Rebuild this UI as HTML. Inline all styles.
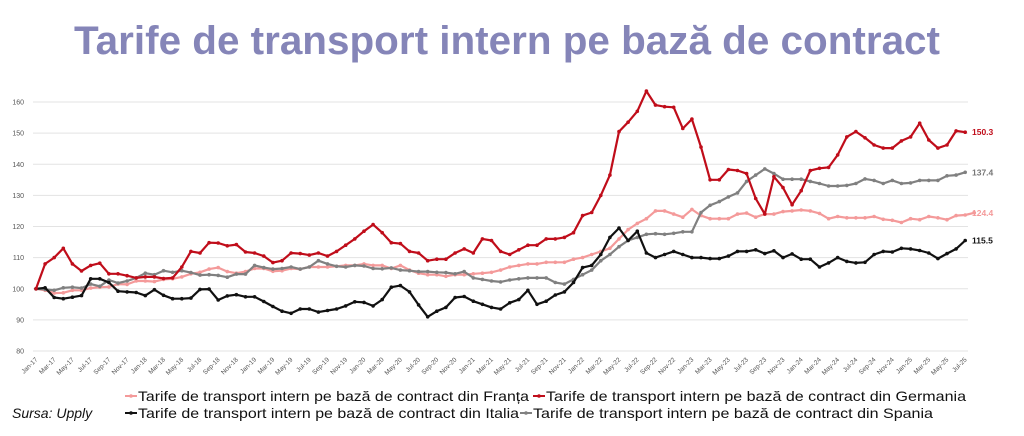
<!DOCTYPE html>
<html><head><meta charset="utf-8"><style>
html,body{margin:0;padding:0;background:#fff;}
svg{display:block;font-family:"Liberation Sans",sans-serif;}
</style></head><body>
<svg id="s" width="1024" height="436" viewBox="0 0 1024 436"></svg>
<script>
const s=document.getElementById('s');
let h='';
h+=`<text x="507" y="54" text-anchor="middle" font-size="40" font-weight="bold" fill="#8585b8" textLength="866" lengthAdjust="spacingAndGlyphs">Tarife de transport intern pe bază de contract</text>`;
const Y=v=>351-(v-80)*3.1125, X=i=>36+9.11*i;
for(let v=80;v<=160;v+=10){h+=`<line x1="33" x2="968" y1="${Y(v)}" y2="${Y(v)}" stroke="#e3e3e3" stroke-width="1"/>`;
h+=`<text x="24" y="${Y(v)+2.5}" text-anchor="end" font-size="7" fill="#555">${v}</text>`;}
const mn=['Jan','Mar','May','Jul','Sep','Nov'];
for(let i=0;i<=102;i+=2){const yr=17+Math.floor(i/12);const m=mn[(i%12)/2];
h+=`<text transform="translate(${X(i)+2},360) rotate(-45)" text-anchor="end" font-size="6.5" fill="#555">${m}-${yr}</text>`;}
const fr=[100,99.5,98.6,98.7,99.5,99.5,100.2,100.5,100.6,101.5,101.4,102.5,102.5,102.3,103,103.2,103.8,104.8,105.3,106.3,106.8,105.5,105,105.5,106.5,106.5,105.6,105.8,106.5,106.3,107,107,107,107.2,107.5,107.5,108,107.5,107.5,106.5,107.5,106,105,104.5,104.5,104,104.5,104.5,104.8,105,105.3,106,107,107.5,108,108,108.5,108.5,108.5,109.5,110,111,112,113,116,119,121,122.5,125,125,124,123,125.5,123.5,122.5,122.5,122.5,124,124.3,123,124,124,124.8,125,125.3,125,124.2,122.5,123.2,122.8,122.8,122.8,123.2,122.3,122,121.3,122.5,122.2,123.2,122.8,122.2,123.5,123.7,124.4];
const de=[100,108,110,113,108,105.7,107.5,108.2,104.8,104.8,104.2,103.5,103.8,103.8,103.3,103.5,107,112,111.5,114.8,114.7,113.8,114.2,111.8,111.5,110.5,108.4,109,111.5,111.3,110.8,111.5,110.5,112,114,116,118.5,120.6,118,114.8,114.5,112,111.5,109,109.5,109.5,111.5,112.8,111.5,116,115.5,112,111,112.5,114,114,116,116,116.5,118,123.5,124.5,130,136.5,150.5,153.5,157,163.5,159,158.5,158.3,151.5,154.5,145.5,135,135,138.3,138,137,129,124,136,132.5,127,131.5,138,138.7,139,143,148.8,150.5,148.5,146.2,145.2,145.2,147.5,148.8,153.2,147.8,145.2,146.2,150.7,150.3];
const it=[100,100.3,97.2,96.8,97.3,97.8,103.2,103.2,102,99.2,99,98.8,97.8,99.7,97.9,96.8,96.8,97,99.8,99.9,96.4,97.7,98.1,97.4,97.4,95.9,94.3,92.8,92.1,93.5,93.5,92.5,93,93.5,94.5,95.8,95.6,94.5,96.5,100.5,101,99,94.8,91,92.8,94,97.2,97.5,96,95,94,93.5,95.5,96.5,99.5,95,96,98,99,102,106.8,107.5,111,116.5,119.5,115.5,118.5,111.5,110,111,112,111,110,110,109.7,109.7,110.5,112,112,112.5,111.3,112.2,110,111.2,109.5,109.5,107,108.3,110,108.8,108.3,108.5,111,112,111.8,113,112.8,112.3,111.5,109.7,111.3,112.8,115.5];
const es=[100,99.8,99.5,100.3,100.5,100.2,101.5,100.8,102.8,101.8,102.5,103.5,105,104.5,105.8,105.3,105.8,105.2,104.4,104.5,104.3,103.7,104.7,104.7,107.5,106.8,106.3,106.5,107,106.3,107,109,108,107.2,107,107.5,107.3,106.5,106.4,106.7,106,105.8,105.5,105.5,105.3,105.2,104.8,105.5,103.5,103,102.5,102.2,102.8,103.2,103.5,103.5,103.5,102,101.5,103,104.5,106,109,111,113.5,115.5,116.5,117.5,117.7,117.5,117.8,118.3,118.3,124.5,126.8,128,129.5,130.8,134.5,136.5,138.5,137,135.2,135.2,135.2,134.5,133.8,133,133,133.2,133.8,135.3,134.8,133.8,134.8,133.8,134,134.8,134.8,134.8,136.3,136.5,137.4];
function ser(d,c,w){let p=d.map((v,i)=>X(i).toFixed(1)+','+Y(v).toFixed(1)).join(' ');
h+=`<polyline points="${p}" fill="none" stroke="${c}" stroke-width="${w}" stroke-linejoin="round"/>`;
d.forEach((v,i)=>h+=`<circle cx="${X(i).toFixed(1)}" cy="${Y(v).toFixed(1)}" r="1.8" fill="${c}"/>`);}
ser(fr,'#f49a9a',2.2);ser(es,'#808080',2.2);ser(it,'#111',2.2);ser(de,'#c00d1a',2.2);
const lab=(v,c,t)=>h+=`<text x="972" y="${Y(v)+3}" font-size="8.5" font-weight="bold" fill="${c}">${t}</text>`;
lab(150.3,'#c00d1a','150.3');lab(137.4,'#777','137.4');lab(124.4,'#f49a9a','124.4');lab(115.5,'#111','115.5');
const leg=(x,y,c,t,w)=>{h+=`<line x1="${x}" x2="${x+12}" y1="${y}" y2="${y}" stroke="${c}" stroke-width="2"/><circle cx="${x+6}" cy="${y}" r="1.8" fill="${c}"/>`;
h+=`<text x="${x+13}" y="${y+5}" font-size="14" fill="#111" textLength="${w}" lengthAdjust="spacingAndGlyphs">${t}</text>`;};
leg(125,396,'#f49a9a','Tarife de transport intern pe bază de contract din Franța',391);
leg(533,396,'#c00d1a','Tarife de transport intern pe bază de contract din Germania',420);
leg(125,413,'#111','Tarife de transport intern pe bază de contract din Italia',381);
leg(520,413,'#808080','Tarife de transport intern pe bază de contract din Spania',400);
h+=`<text x="12" y="418" font-size="14" font-style="italic" fill="#111">Sursa: Upply</text>`;
s.innerHTML=h;
</script>
</body></html>
